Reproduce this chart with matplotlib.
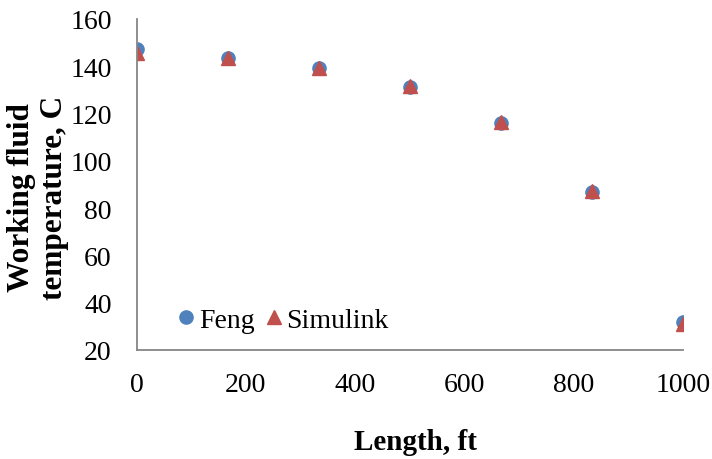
import matplotlib
matplotlib.use("Agg")
import matplotlib.pyplot as plt

# temperature along the well, both models
length_ft = [0, 166.7, 333.3, 500, 666.7, 833.3, 1000]
feng_temp = [147.3, 143.3, 139.0, 131.2, 115.8, 86.8, 31.8]
simulink_temp = [145.5, 143.6, 139.4, 131.5, 116.3, 87.4, 31.0]

xticks = [0, 200, 400, 600, 800, 1000]
yticks = [20, 40, 60, 80, 100, 120, 140, 160]

plt.rcParams["font.family"] = ["Liberation Serif", "DejaVu Serif"]

fig = plt.figure(figsize=(7.12, 4.6), dpi=100)
ax = fig.add_axes([0.192, 0.237, 0.767, 0.72])

ax.plot(length_ft, feng_temp, linestyle="none", marker="o", markersize=9.5,
        color="#4F81BD", label="Feng")
ax.plot(length_ft, simulink_temp, linestyle="none", marker="^", markersize=9.5,
        color="#C0504D", label="Simulink")

ax.set_xlim(0, 1000)
ax.set_ylim(20, 160)
ax.set_xticks(xticks)
ax.set_yticks(yticks)
ax.tick_params(axis="both", length=0, labelsize=20)
ax.tick_params(axis="x", pad=16)
ax.tick_params(axis="y", pad=18)

for side in ("top", "right"):
    ax.spines[side].set_visible(False)
for side in ("left", "bottom"):
    ax.spines[side].set_color("#868686")
    ax.spines[side].set_linewidth(1.3)

ax.set_xlabel("Length, ft", fontsize=21, fontweight="bold")
ax.xaxis.set_label_coords(0.511, -0.236)
ax.set_ylabel("Working fluid\ntemperature, C", fontsize=22.5, fontweight="bold",
              linespacing=1.2)
ax.yaxis.set_label_coords(-0.124, 0.462)

ax.legend(loc="lower left", bbox_to_anchor=(0.04, -0.007), ncol=2, frameon=False,
          fontsize=20, handlelength=0.6, handletextpad=0.15, columnspacing=0.4,
          borderpad=0.2)

fig.savefig("out.png", dpi=100)
plt.close(fig)
